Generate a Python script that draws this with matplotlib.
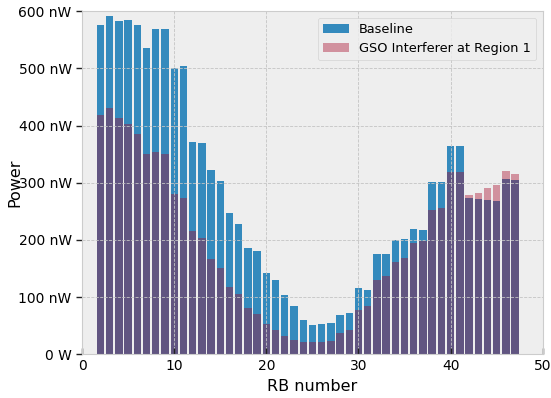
import matplotlib
matplotlib.use("Agg")
import matplotlib.pyplot as plt
from matplotlib.ticker import EngFormatter
import numpy as np

plt.style.use('bmh')

rb = list(range(2, 48))
baseline_nw = [576, 591, 582, 584, 576, 535, 569, 568, 500, 504,
               371, 370, 322, 303, 247, 227, 185, 180, 142, 129,
               103, 85, 59, 51, 52, 54, 69, 72, 115, 113,
               175, 176, 199, 201, 219, 217, 302, 302, 364, 364,
               273, 272, 270, 268, 307, 305]
interferer_nw = [419, 431, 413, 402, 385, 350, 354, 350, 281, 274,
                 216, 204, 167, 150, 118, 105, 81, 70, 53, 42,
                 31, 25, 21.5, 21.5, 21.5, 23, 37, 42, 77, 84,
                 129, 137, 161, 169, 194, 198, 253, 256, 319, 319,
                 278, 282, 291, 296, 320, 315]

baseline = np.array(baseline_nw) * 1e-9
interferer = np.array(interferer_nw) * 1e-9

fig = plt.figure(figsize=(5.51, 3.98), dpi=100)
ax = fig.add_axes([0.149, 0.110, 0.836, 0.862])
ax.bar(rb, baseline, color='#348ABD', label='Baseline')
ax.bar(rb, interferer, color='#A60628', alpha=0.4, label='GSO Interferer at Region 1')
ax.set_xlim(0, 50)
ax.set_ylim(0, 600e-9)
ax.yaxis.set_major_formatter(EngFormatter(unit='W'))
ax.set_xlabel('RB number', fontsize=11.5)
ax.set_ylabel('Power', fontsize=11.5)
ax.yaxis.set_label_coords(-0.13, 0.5)
ax.grid(True, color='#c4c4c4', linestyle='--', linewidth=0.6)
ax.tick_params(axis='x', direction='in', length=4, width=1, color='#222222', labelsize=10)
ax.tick_params(axis='y', direction='out', length=4, width=1, color='#222222', labelsize=10)
for s in ax.spines.values():
    s.set_color('#cccccc')
ax.legend(loc='upper right', fontsize=9.3)
fig.savefig('out.png', dpi=100)
